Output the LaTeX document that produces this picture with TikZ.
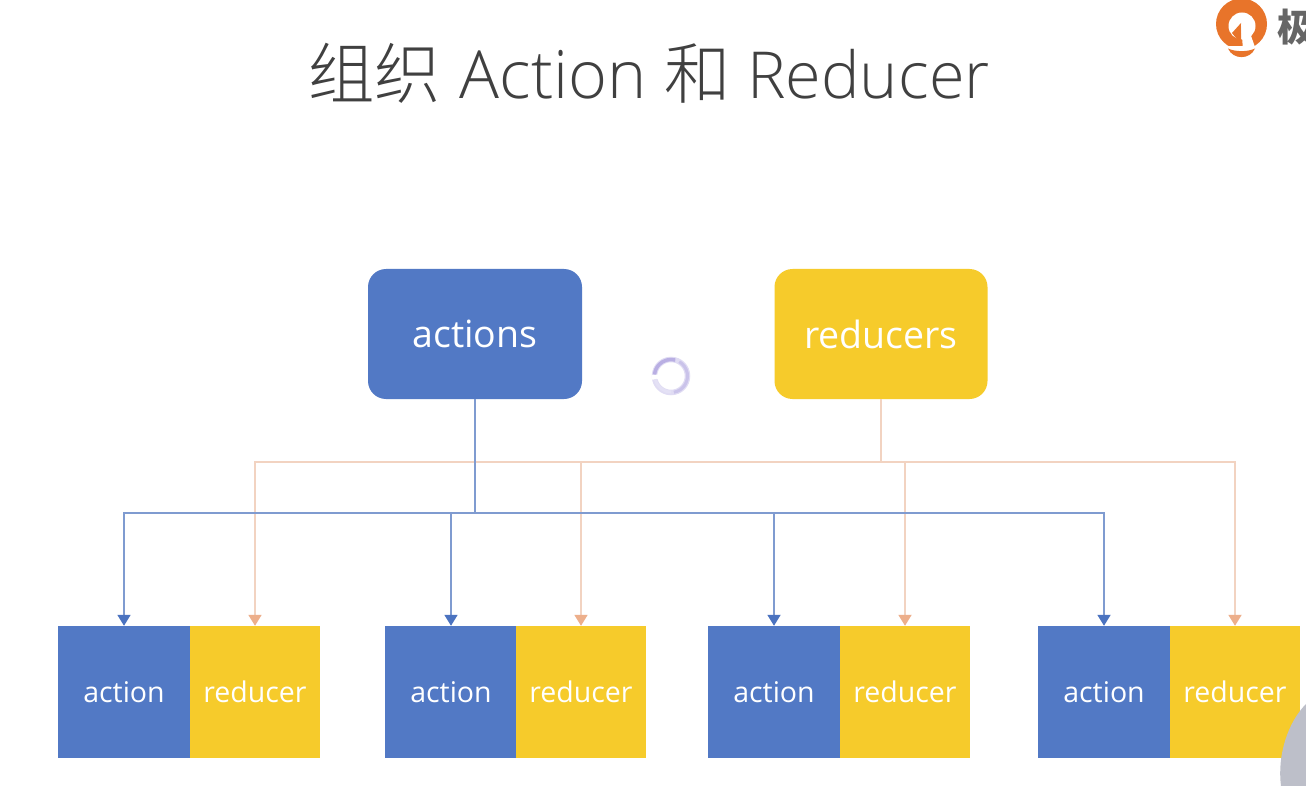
\documentclass[tikz,border=0pt]{standalone}
\usepackage{fontspec}
\setmainfont{Open Sans}
\newfontfamily\cjk{Noto Sans CJK SC Light}
\newfontfamily\cjkbold{Noto Sans CJK SC}
\newfontfamily\lightlatin{Open Sans Light}
\usetikzlibrary{arrows.meta,calc}
\definecolor{bluefill}{HTML}{5279C5}
\definecolor{yellowfill}{HTML}{F6CB2B}
\definecolor{blueline}{HTML}{7F9BD0}
\definecolor{peachline}{HTML}{F2D3C1}
\definecolor{bluetip}{HTML}{4B73C0}
\definecolor{peachtip}{HTML}{EDAF8B}
\definecolor{titlegray}{HTML}{404040}
\definecolor{logoorange}{HTML}{E8742A}
\definecolor{blobgray}{HTML}{BDBFC9}
\definecolor{spinner}{HTML}{A79BDC}
\tikzset{
  bigbox/.style={rounded corners=18pt,minimum height=130pt,inner sep=0pt,text=white,font=\fontsize{37.5}{40}\selectfont},
  smallbox/.style={minimum height=132pt,inner sep=0pt,text=white,font=\fontsize{28.5}{32}\selectfont,anchor=center},
  bluebox/.style={smallbox,fill=bluefill,minimum width=132pt},
  yellowbox/.style={smallbox,fill=yellowfill,minimum width=130pt},
  blueconn/.style={draw=blueline,line width=1.8pt},
  peachconn/.style={draw=peachline,line width=1.8pt},
  bluearrow/.style={blueconn,-{Triangle[length=11pt,width=13pt,color=bluetip]}},
  peacharrow/.style={peachconn,-{Triangle[length=11pt,width=13pt,color=peachtip]}},
}
\begin{document}
\begin{tikzpicture}[x=1pt,y=-1pt]
\useasboundingbox (0,0) rectangle (1306,786);
\clip (0,0) rectangle (1306,786);
\fill[white] (0,0) rectangle (1306,786);
% title
\node[text=titlegray,anchor=center,inner sep=0pt] (title) at (649,73)
  {\fontsize{66.5}{70}\selectfont\cjk 组织\ \hspace{4pt}\lightlatin Action \cjk 和\ \hspace{2pt}{\fontsize{64.8}{70}\selectfont\lightlatin Reducer}};
% top boxes
\node[bigbox,fill=bluefill,minimum width=214pt] (actions) at (475,334) {actions};
\node[bigbox,fill=yellowfill,minimum width=213pt] (reducers) at (881,334) {reducers};
% bottom boxes
\node[bluebox] (a1) at (124,692) {action};
\node[yellowbox] (r1) at (255,692) {reducer};
\node[bluebox] (a2) at (451,692) {action};
\node[yellowbox] (r2) at (581,692) {reducer};
\node[bluebox] (a3) at (774,692) {action};
\node[yellowbox] (r3) at (905,692) {reducer};
\node[bluebox] (a4) at (1104,692) {action};
\node[yellowbox] (r4) at (1235,692) {reducer};
% junctions
\coordinate (pj) at (reducers.south |- 0,462);
\coordinate (bj) at (actions.south |- 0,513);
% peach connectors
\draw[peachconn] (reducers.south) -- (pj);
\draw[peacharrow] (pj) -| (r1.north);
\draw[peacharrow] (pj) -| (r2.north);
\draw[peacharrow] (pj) -| (r3.north);
\draw[peacharrow] (pj) -| (r4.north);
% blue connectors
\draw[blueconn] (actions.south) -- (bj);
\draw[bluearrow] (bj) -| (a1.north);
\draw[bluearrow] (bj) -| (a2.north);
\draw[bluearrow] (bj) -| (a3.north);
\draw[bluearrow] (bj) -| (a4.north);
% spinner
\begin{scope}[shift={(671,376)},x=1pt,y=1pt]
\draw[spinner!35,line width=5.5pt] (0,0) circle (16.5pt);
\draw[spinner!80,line width=3.5pt] (75:16.5pt) arc (75:175:16.5pt);
\draw[spinner!60,line width=3pt] (-80:16.5pt) arc (-80:60:16.5pt);
\draw[white,line width=6.5pt] (176:16.5pt) arc (176:192:16.5pt);
\draw[spinner!30,line width=3pt] (192:16pt) arc (192:270:16pt);
\end{scope}
% grey blob at lower right
\fill[blobgray] (1306,704) .. controls (1288,722) and (1277,755) .. (1281,786) -- (1306,786) -- cycle;
% logo
\fill[logoorange] (1241.5,24) circle (25.5pt);
\fill[white] (1242,26) circle (13.5pt);
\fill[logoorange] (1232,33) -- (1241,23) -- (1241,46) -- (1236,38) -- cycle;
\fill[white] (1241,23) -- (1243,50) -- (1256,50) -- (1250,33) -- (1244,30) -- cycle;
\fill[white] (1222,46.5) -- (1262,46.5) -- (1262,50) -- (1222,50) -- cycle;
\fill[logoorange] (1228,48.5) .. controls (1235,52) and (1248,52) .. (1255,48.5) .. controls (1250,60) and (1233,60) .. (1228,48.5) -- cycle;
\node[anchor=west,inner sep=0pt,text=black!60,font=\fontsize{38}{40}\selectfont\cjkbold\bfseries] (logotext) at (1277,27) {极};
\end{tikzpicture}
\end{document}
